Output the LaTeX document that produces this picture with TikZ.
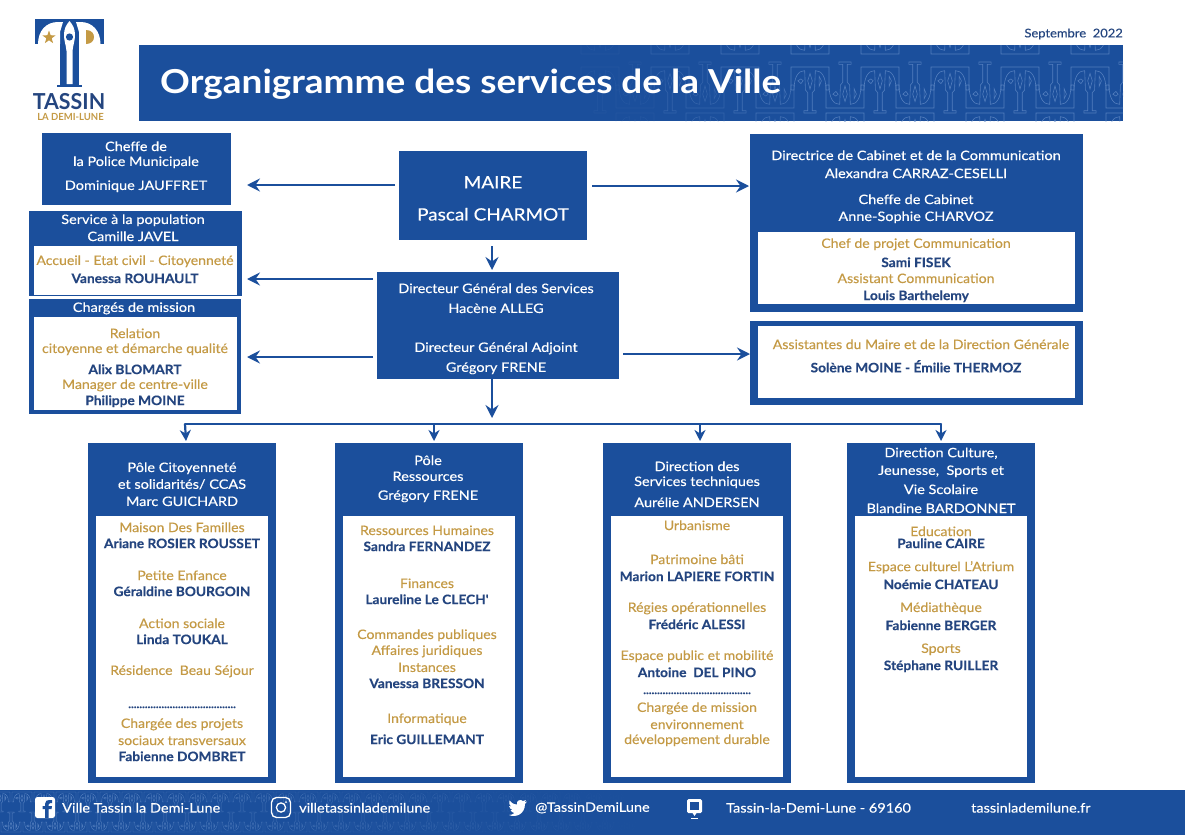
\documentclass[tikz,border=0pt]{standalone}
\usepackage{fontspec}
\setmainfont[FakeStretch=1.08,FakeBold=.25]{Lato}
\setsansfont[FakeStretch=1.115,FakeBold=.35]{Lato}
\newfontfamily\titlefont[FakeStretch=1.12]{Lato}
\newfontfamily\namefont[FakeStretch=1.055,FakeBold=.25]{Lato}
\newfontfamily\logofont[FakeStretch=.97]{Lato}
\usetikzlibrary{arrows.meta,shapes.geometric,calc}
\definecolor{bleu}{HTML}{1B4F9C}
\definecolor{nuit}{HTML}{24457F}
\definecolor{ocre}{HTML}{C49A45}
\definecolor{motifc}{HTML}{6A92CC}
\newcount\txn
\tikzset{
 x=1pt,y=-1pt,
 bluebox/.style={fill=bleu,draw=none,inner sep=0pt,outer sep=0pt},
 whitebox/.style={fill=white,draw=none,inner sep=0pt,outer sep=0pt},
 lab/.style={inner sep=0pt,anchor=center,yshift=-.3pt,font=\fontsize{13}{15}\selectfont},
 wtx/.style={lab,text=white,font=\fontsize{13}{15}\sffamily},
 gtx/.style={lab,text=ocre},
 ntx/.style={lab,text=nuit,font=\fontsize{13}{15}\namefont\bfseries},
 ftx/.style={inner sep=0pt,anchor=west,yshift=-.8pt,text=white,font=\fontsize{13}{15}\sffamily},
 arr/.style={draw=bleu,line width=2.6pt,-{Stealth[length=13pt,width=13pt,inset=4.5pt]}},
 barr/.style={draw=bleu,line width=2.2pt,-{Stealth[length=11pt,width=11pt,inset=3.5pt]}},
 busline/.style={draw=bleu,line width=2.2pt},
 motifline/.style={draw=motifc,line width=.6pt},
}
\newcommand\boite[6]{%
 \pgfmathsetmacro\bw{#5-#3}\pgfmathsetmacro\bh{#6-#4}%
 \pgfmathsetmacro\bx{(#3+#5)/2}\pgfmathsetmacro\by{(#4+#6)/2}%
 \node[#1,minimum width=\bw pt,minimum height=\bh pt] (#2) at (\bx,\by) {};}
\newcommand\tx[4]{\global\advance\txn by 1 \node[#1] (t\the\txn) at (#2,#3) {#4};}
\newcommand\motif{%
 \path[motifline] (-.5,.5) -- (-.5,0) -- (.5,0) -- (.5,.5) -- (.42,.5)
  .. controls (.42,.2) and (.3,.08) .. (.14,.08) -- (.12,.5) -- (.06,.56) -- (.06,.95) -- (.16,.95) -- (.16,1)
  -- (-.16,1) -- (-.16,.95) -- (-.06,.95) -- (-.06,.56) -- (-.12,.5) -- (-.14,.08)
  .. controls (-.3,.08) and (-.42,.2) .. (-.42,.5) -- cycle;
 \path[motifline] (0,.14) -- (.06,.3) -- (0,.48) -- (-.06,.3) -- cycle;
 \path[motifline] (.24,.2) -- (.3,.3) -- (.24,.42) -- cycle;
 \path[motifline] (-.32,.3) -- (-.24,.26) -- (-.18,.3) -- (-.24,.36) -- cycle;}
\begin{document}
\begin{tikzpicture}
\useasboundingbox (0,0) rectangle (1185,835);
\fill[white] (0,0) rectangle (1185,835);

% banner
\boite{bluebox}{banner}{139}{45}{1123}{121}
\begin{scope}
 \clip (139,45) rectangle (1123,121);
 \foreach \i in {0,...,7}{
  \pgfmathsetmacro\px{600+70*\i}
  \pgfmathsetmacro\op{min(1,max(0,(\px-560)/260))*.7}
  \begin{scope}[draw opacity=\op]
   \begin{scope}[shift={(\px,67)},xscale=38,yscale=46]\motif\end{scope}
   \begin{scope}[shift={(\px+35,108)},xscale=38,yscale=-46]\motif\end{scope}
   \begin{scope}[shift={(\px+35,113)},xscale=38,yscale=46]\motif\end{scope}
   \begin{scope}[shift={(\px,54)},xscale=38,yscale=-46]\motif\end{scope}
  \end{scope}}
\end{scope}
\tx{inner sep=0pt,anchor=west,text=white,font=\fontsize{33}{38}\titlefont\bfseries}{160}{84}{Organigramme des services de la Ville}
\tx{inner sep=0pt,anchor=east,yshift=-1pt,text=nuit,font=\fontsize{12}{14}\selectfont}{1123}{33}{Septembre\ \ 2022}

% logo
\fill[bleu] (34.5,18.5) rectangle (104,44);
\fill[white] (38,44) .. controls (38,31) and (46,22) .. (58,22) -- (63,22) -- (60,32) -- (60,44) -- cycle;
\fill[white] (100.5,44) .. controls (100.5,31) and (92.5,22) .. (80.5,22) -- (76,22) -- (79,32) -- (79,44) -- cycle;
\fill[bleu] (60,44) -- (79,44) -- (79,87) -- (60,87) -- cycle;
\fill[white] (69.5,21) .. controls (73,25) and (75,29) .. (75,35) .. controls (75,41) and (73,45) .. (72.5,51) -- (72.5,84) -- (66.5,84) -- (66.5,51) .. controls (66,45) and (64,41) .. (64,35) .. controls (64,29) and (66,25) .. (69.5,21) -- cycle;
\fill[bleu] (69.5,37) circle[radius=3.6];
\fill[bleu] (57,84.5) rectangle (82,87);
\node[star,star points=5,star point ratio=2.5,fill=ocre,inner sep=0pt,minimum size=14pt] (logostar) at (49,37.5) {};
\fill[ocre] (86,30) .. controls (92,30) and (94,34) .. (94,37) .. controls (94,41) and (91,44) .. (86,44) -- cycle;
\tx{inner sep=0pt,text=nuit,font=\fontsize{22}{24}\logofont\bfseries}{69}{102}{TASSIN}
\tx{inner sep=0pt,text=ocre,font=\fontsize{9.8}{11}\logofont\bfseries}{70.5}{117}{LA DEMI-LUNE}

% boxes
\boite{bluebox}{police}{42}{133}{231}{205}
\boite{bluebox}{maire}{399}{151}{587}{240}
\boite{bluebox}{cabinet}{750}{134}{1083}{312}
\boite{whitebox}{cabinetw}{758}{232}{1075}{304}
\boite{bluebox}{service}{29}{211}{242}{296}
\boite{whitebox}{servicew}{34}{246}{237}{295}
\boite{bluebox}{charges}{29}{299}{241}{414}
\boite{whitebox}{chargesw}{34}{317}{237}{410}
\boite{bluebox}{dgs}{377}{272}{619}{379}
\boite{bluebox}{assist}{750}{321}{1083}{405}
\boite{whitebox}{assistw}{758}{326}{1075}{398}
\boite{bluebox}{poleA}{88}{443}{276}{783}
\boite{whitebox}{poleAw}{96}{516}{268}{777}
\boite{bluebox}{poleB}{335}{443}{523}{783}
\boite{whitebox}{poleBw}{343}{516}{515}{777}
\boite{bluebox}{poleC}{603}{443}{791}{783}
\boite{whitebox}{poleCw}{611}{516}{783}{777}
\boite{bluebox}{poleD}{847}{443}{1035}{783}
\boite{whitebox}{poleDw}{855}{516}{1027}{777}

% connectors
\coordinate (busL) at (185,424);
\coordinate (busM) at (492,424);
\coordinate (busR) at (941,424);
\draw[arr] ([shift={(-4pt,10.5pt)}]maire.west) -- ([shift={(16pt,-16pt)}]police.east);
\draw[arr] ([shift={(5pt,9.5pt)}]maire.east) -- ([shift={(-1pt,37pt)}]cabinet.west);
\draw[arr] ([shift={(-1pt,-6pt)}]maire.south) -- ([shift={(-6pt,2pt)}]dgs.north);
\draw[arr] ([shift={(-4pt,46.5pt)}]dgs.west) -- ([shift={(5pt,-25.5pt)}]service.east);
\draw[arr] ([shift={(-4pt,-31.5pt)}]dgs.west) -- ([shift={(6pt,-.5pt)}]charges.east);
\draw[arr] ([shift={(4pt,-28.5pt)}]dgs.east) -- ([shift={(0pt,9pt)}]assist.west);
\draw[arr] ([shift={(-6pt,0pt)}]dgs.south) -- ([yshift=6pt]busM);
\draw[busline,line cap=round] (busL) -- (busR);
\draw[barr] (busL) -- ([shift={(4pt,2pt)}]poleA.north);
\draw[barr] (poleB.north |- busM) ++(5,0) -- ([shift={(5pt,2pt)}]poleB.north);
\draw[barr] (poleC.north |- busM) ++(3,0) -- ([shift={(3pt,2pt)}]poleC.north);
\draw[barr] (busR) -- ([yshift=2pt]poleD.north);

% texts
\tx{wtx}{136}{146}{Cheffe de}
\tx{wtx}{136}{162}{la Police Municipale}
\tx{wtx}{136}{186}{Dominique JAUFFRET}
\tx{wtx,font=\fontsize{17}{20}\sffamily}{493}{182}{MAIRE}
\tx{wtx,font=\fontsize{17}{20}\sffamily}{493}{214}{Pascal CHARMOT}
\tx{wtx}{916}{155}{Directrice de Cabinet et de la Communication}
\tx{wtx}{916}{173}{Alexandra CARRAZ-CESELLI}
\tx{wtx}{916}{199}{Cheffe de Cabinet}
\tx{wtx}{916}{217}{Anne-Sophie CHARVOZ}
\tx{gtx}{916}{244}{Chef de projet Communication}
\tx{ntx}{916}{262}{Sami FISEK}
\tx{gtx}{916}{278}{Assistant Communication}
\tx{ntx}{916}{296}{Louis Barthelemy}
\tx{wtx}{133}{220}{Service à la population}
\tx{wtx}{133}{236}{Camille JAVEL}
\tx{gtx}{135}{261}{Accueil - Etat civil - Citoyenneté}
\tx{ntx}{135}{278}{Vanessa ROUHAULT}
\tx{wtx}{134}{308}{Chargés de mission}
\tx{gtx}{135}{333}{Relation}
\tx{gtx}{135}{349}{citoyenne et démarche qualité}
\tx{ntx}{135}{369}{Alix BLOMART}
\tx{gtx}{135}{385}{Manager de centre-ville}
\tx{ntx}{135}{401}{Philippe MOINE}
\tx{wtx}{496}{288}{Directeur Général des Services}
\tx{wtx}{496}{308}{Hacène ALLEG}
\tx{wtx}{496}{348}{Directeur Général Adjoint}
\tx{wtx}{496}{368}{Grégory FRENE}
\tx{gtx}{921}{344}{Assistantes du Maire et de la Direction Générale}
\tx{ntx}{916}{366}{Solène MOINE - Émilie THERMOZ}
% pole A
\tx{wtx}{182}{468}{Pôle Citoyenneté}
\tx{wtx}{182}{484}{et solidarités/ CCAS}
\tx{wtx}{182}{501}{Marc GUICHARD}
\tx{gtx}{182}{527}{Maison Des Familles}
\tx{ntx}{182}{543}{Ariane ROSIER ROUSSET}
\tx{gtx}{182}{575}{Petite Enfance}
\tx{ntx}{182}{591}{Géraldine BOURGOIN}
\tx{gtx}{182}{623}{Action sociale}
\tx{ntx}{182}{639}{Linda TOUKAL}
\tx{gtx}{182}{671}{Résidence\ \ Beau Séjour}
\tx{ntx,font=\fontsize{11}{12}\namefont\bfseries}{182}{707}{.......................................}
\tx{gtx}{182}{724}{Chargée des projets}
\tx{gtx}{182}{740}{sociaux transversaux}
\tx{ntx}{182}{756}{Fabienne DOMBRET}
% pole B
\tx{wtx}{428}{460}{Pôle}
\tx{wtx}{428}{476}{Ressources}
\tx{wtx}{428}{496}{Grégory FRENE}
\tx{gtx}{427}{530}{Ressources Humaines}
\tx{ntx}{427}{546}{Sandra FERNANDEZ}
\tx{gtx}{427}{583}{Finances}
\tx{ntx}{427}{599}{Laureline Le CLECH'}
\tx{gtx}{427}{635}{Commandes publiques}
\tx{gtx}{427}{651}{Affaires juridiques}
\tx{gtx}{427}{667}{Instances}
\tx{ntx}{427}{683}{Vanessa BRESSON}
\tx{gtx}{427}{719}{Informatique}
\tx{ntx}{427}{739}{Eric GUILLEMANT}
% pole C
\tx{wtx}{697}{466}{Direction des}
\tx{wtx}{697}{482}{Services techniques}
\tx{wtx}{697}{502}{Aurélie ANDERSEN}
\tx{gtx}{697}{525}{Urbanisme}
\tx{gtx}{697}{559}{Patrimoine bâti}
\tx{ntx}{697}{576}{Marion LAPIERE FORTIN}
\tx{gtx}{697}{608}{Régies opérationnelles}
\tx{ntx}{697}{624}{Frédéric ALESSI}
\tx{gtx}{697}{656}{Espace public et mobilité}
\tx{ntx}{697}{672}{Antoine\ \ DEL PINO}
\tx{ntx,font=\fontsize{11}{12}\namefont\bfseries}{697}{693}{.......................................}
\tx{gtx}{697}{708}{Chargée de mission}
\tx{gtx}{697}{724}{environnement}
\tx{gtx}{697}{740}{développement durable}
% pole D
\tx{wtx}{941}{453}{Direction Culture,}
\tx{wtx}{941}{471}{Jeunesse,\ \ Sports et}
\tx{wtx}{941}{489}{Vie Scolaire}
\tx{wtx}{941}{508}{Blandine BARDONNET}
\tx{gtx}{941}{531}{Education}
\tx{ntx}{941}{543}{Pauline CAIRE}
\tx{gtx}{941}{567}{Espace culturel L'Atrium}
\tx{ntx}{941}{584}{Noémie CHATEAU}
\tx{gtx}{941}{608}{Médiathèque}
\tx{ntx}{941}{625}{Fabienne BERGER}
\tx{gtx}{941}{649}{Sports}
\tx{ntx}{941}{666}{Stéphane RUILLER}

% footer
\boite{bluebox}{footer}{0}{790}{1185}{835}
\begin{scope}
 \clip (0,790) rectangle (1185,835);
 \foreach \i in {0,...,29}{
  \pgfmathsetmacro\px{22*\i}
  \pgfmathsetmacro\op{max(0,1-\i/29)*.8}
  \begin{scope}[draw opacity=\op,motifline/.append style={line width=.45pt}]
   \begin{scope}[shift={(\px,792)},xscale=20,yscale=20]\motif\end{scope}
   \begin{scope}[shift={(\px+11,832)},xscale=20,yscale=-20]\motif\end{scope}
  \end{scope}}
\end{scope}
% facebook icon
\fill[white,rounded corners=2.5pt] (35,797) rectangle (55,818);
\fill[bleu] (45,818) -- (45,809) -- (42.5,809) -- (42.5,806) -- (45,806) -- (45,804) .. controls (45,801) and (47,800) .. (49,800) -- (52,800) -- (52,803) -- (50,803) .. controls (49,803) and (48.5,803.5) .. (48.5,804.5) -- (48.5,806) -- (52,806) -- (51.5,809) -- (48.5,809) -- (48.5,818) -- cycle;
% instagram icon
\draw[white,line width=1.3pt,rounded corners=5pt] (271.5,797.5) rectangle (290.5,817.5);
\draw[white,line width=1.3pt] (281,807.5) circle[radius=4.6];
\fill[white] (286,802) circle[radius=1];
% twitter icon
\fill[white] (509,815) .. controls (516,818) and (525,814) .. (525,804) -- (527,801.5) -- (524.5,802.5) -- (526,800) -- (523,801) .. controls (521,799) and (516,800) .. (517,804.5) .. controls (513,804.5) and (510.5,802) .. (509.5,800.5) .. controls (508.5,803) and (509.5,805) .. (511,806.5) -- (509,806) .. controls (509.5,808) and (510.5,809) .. (512.5,810) -- (510.5,810) .. controls (511.5,812) and (512.5,812.5) .. (514.5,813) .. controls (512.5,814.5) and (511,815) .. (509,815) -- cycle;
% pin icon
\fill[white,rounded corners=1.5pt] (687,799) rectangle (702,813);
\fill[bleu] (690,802) rectangle (699,810);
\fill[white] (692.5,813) -- (696.5,813) -- (694.5,816) -- cycle;
\fill[white] (691,817.5) rectangle (698,818.5);
\tx{ftx}{62}{807}{Ville Tassin la Demi-Lune}
\tx{ftx}{299}{807}{villetassinlademilune}
\tx{ftx}{535}{807}{@TassinDemiLune}
\tx{ftx}{726}{807}{Tassin-la-Demi-Lune - 69160}
\tx{ftx}{971}{807}{tassinlademilune.fr}
\end{tikzpicture}
\end{document}
